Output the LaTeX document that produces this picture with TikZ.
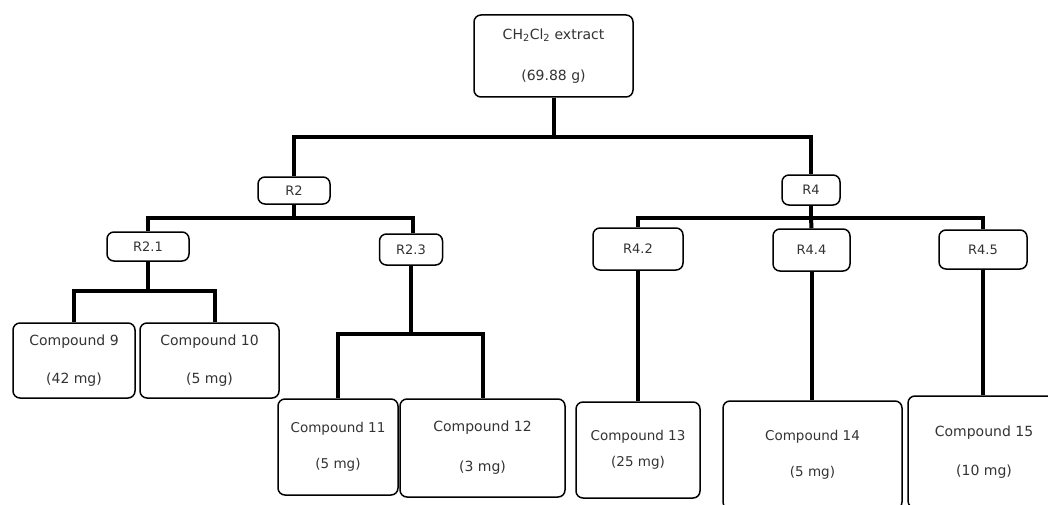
\documentclass[tikz,border=0pt]{standalone}
\usepackage{fontspec}
\setmainfont{DejaVu Sans}
\begin{document}
\begin{tikzpicture}[x=1pt,y=-1pt,
  box/.style={draw=black, line width=1.5pt, rounded corners=7pt, fill=white,
    inner sep=0pt, align=center, text=black!80, font=\fontsize{14}{14}\selectfont},
  frac/.style={box, font=\fontsize{13}{13}\selectfont},
  link/.style={line width=4pt, black}]
\useasboundingbox (0,0) rectangle (1048,505);
\clip (0,0) rectangle (1048,505);

% extract
\node[box, minimum width=159pt, minimum height=82pt] (root) at (553.5,56)
  {CH\textsubscript{2}Cl\textsubscript{2} extract\\[27pt](69.88 g)};

% first fractions
\node[frac, minimum width=72pt, minimum height=27pt] (r2) at (294,190.5) {R2};
\node[frac, minimum width=58pt, minimum height=30pt] (r4) at (811,190) {R4};

% sub-fractions
\node[frac, minimum width=82pt, minimum height=29pt] (r21) at (148,246.5) {R2.1};
\node[frac, minimum width=63pt, minimum height=31pt] (r23) at (411,249.5) {R2.3};
\node[frac, minimum width=90pt, minimum height=42pt] (r42) at (638,249) {R4.2};
\node[frac, minimum width=77pt, minimum height=42pt] (r44) at (811.5,250) {R4.4};
\node[frac, minimum width=88pt, minimum height=39pt] (r45) at (983,249.5) {R4.5};

% isolated compounds
\node[box, minimum width=122pt, minimum height=75pt] (c9) at (74,360.5)
  {Compound 9\\[24pt](42 mg)};
\node[box, minimum width=139pt, minimum height=75pt] (c10) at (209.5,360.5)
  {Compound 10\\[24pt](5 mg)};
\node[box, minimum width=120pt, minimum height=96pt, font=\fontsize{13.5}{13.5}\selectfont] (c11) at (338,447)
  {Compound 11\\[23pt](5 mg)};
\node[box, minimum width=165pt, minimum height=98pt] (c12) at (482.5,448)
  {Compound 12\\[26pt](3 mg)};
\node[box, minimum width=124pt, minimum height=96pt, font=\fontsize{13.5}{13.5}\selectfont] (c13) at (638,450)
  {Compound 13\\[13pt](25 mg)};
\node[box, minimum width=179pt, minimum height=108pt, font=\fontsize{13.5}{13.5}\selectfont] (c14) at (812.5,455)
  {Compound 14\\[23pt](5 mg)};
\node[box, minimum width=152pt, minimum height=112pt] (c15) at (984,452)
  {Compound 15\\[25pt](10 mg)};

% branch points
\coordinate (bar0)  at (553.5,137);
\coordinate (bar2)  at (294,218);
\coordinate (bar4)  at (811,218);
\coordinate (bar21) at (148,291);
\coordinate (bar23) at (411,334);

% connectors
\draw[link] (root.south) -- (bar0) -| (r2.north);
\draw[link] (bar0) -| (r4.north);
\draw[link] (r2.south) -- (bar2) -| (r21.north);
\draw[link] (bar2) -| ([xshift=2pt]r23.north);
\draw[link] (r4.south) -- (bar4) -| (r42.north);
\draw[link] (bar4) -| (r45.north);
\draw[link] (bar4) -- (r44.north);
\draw[link] (r21.south) -- (bar21) -| (c9.north);
\draw[link] (bar21) -| ([xshift=5pt]c10.north);
\draw[link] (r23.south) -- (bar23) -| (c11.north);
\draw[link] (bar23) -| (c12.north);
\draw[link] (r42.south) -- (c13.north);
\draw[link] (r44.south) -- (r44.south |- c14.north);
\draw[link] (r45.south) -- (r45.south |- c15.north);
\end{tikzpicture}
\end{document}
